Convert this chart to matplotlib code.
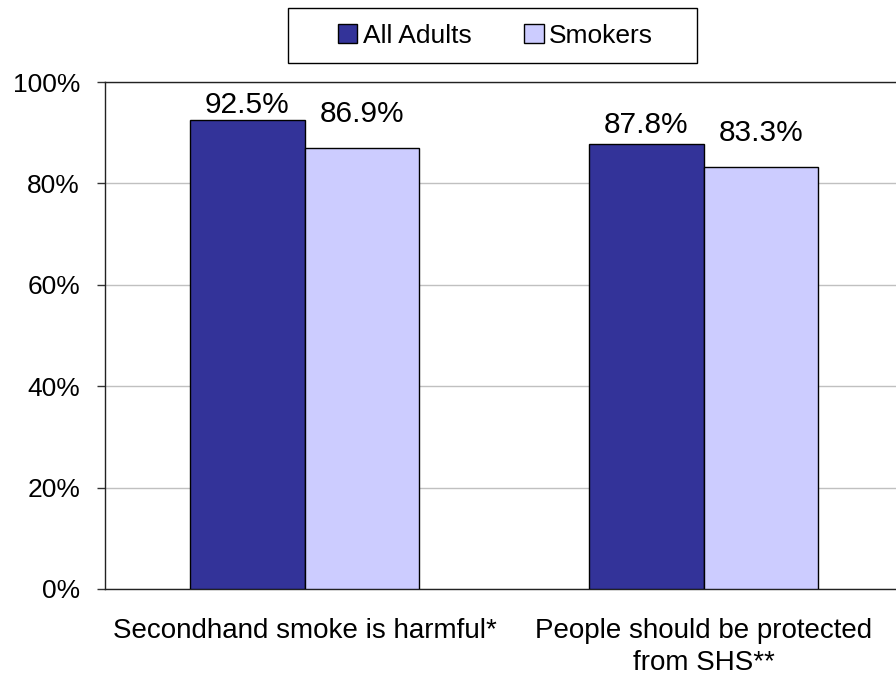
import matplotlib
matplotlib.use("Agg")
import matplotlib.pyplot as plt
from matplotlib.patches import Rectangle
import numpy as np

plt.rcParams['font.family'] = ['Liberation Sans', 'DejaVu Sans']

categories = ["Secondhand smoke is harmful*", "People should be protected\nfrom SHS**"]
series_names = ["All Adults", "Smokers"]
all_adults = [92.5, 87.8]
smokers = [86.9, 83.3]
y_ticks = [0, 20, 40, 60, 80, 100]
y_tick_labels = ["0%", "20%", "40%", "60%", "80%", "100%"]

colors = ["#333399", "#CCCCFF"]
label_offsets = [[7, 11], [26, 26]]  # pixels above bar top (styling)

W, H = 896, 675
fig = plt.figure(figsize=(W / 100, H / 100), dpi=100)
ax = fig.add_axes([105 / W, (H - 589) / H, (903 - 105) / W, (589 - 82) / H])

x = np.arange(len(categories))
bw = 0.287
fs = 19
series = [all_adults, smokers]
handles = []
for i, (vals, name) in enumerate(zip(series, series_names)):
    pos = x + (i - 0.5) * bw
    b = ax.bar(pos, vals, bw, color=colors[i], edgecolor="black", linewidth=1.0,
               label=name, zorder=3)
    handles.append(b)
    for j, (p, v) in enumerate(zip(pos, vals)):
        ax.annotate(f"{v:.1f}%", xy=(p, v), xytext=(0, label_offsets[i][j]),
                    textcoords="offset pixels", ha="center", va="baseline",
                    fontsize=21.5, color="black", zorder=4)

ax.set_xlim(-0.5, 1.5)
ax.set_ylim(0, 100)
ax.set_yticks(y_ticks)
ax.set_yticklabels(y_tick_labels, fontsize=fs)
ax.set_xticks(x)
ax.set_xticklabels(categories, fontsize=20, linespacing=1.3)
ax.tick_params(axis="x", length=0, pad=21)
ax.tick_params(axis="y", length=6, width=1, direction="out", pad=12, color="#333333")
ax.yaxis.grid(True, color="#C0C0C0", linewidth=1, zorder=0)
ax.set_axisbelow(True)
for s in ["left", "bottom", "top"]:
    ax.spines[s].set_color("#222222")
    ax.spines[s].set_linewidth(1)
ax.spines["right"].set_visible(False)

# legend box frame
fig.patches.append(Rectangle((288 / W, 1 - 63 / H), (697 - 288) / W, (63 - 8) / H,
                             transform=fig.transFigure, facecolor="white",
                             edgecolor="black", linewidth=1.0, zorder=1))
leg = fig.legend(handles=handles, labels=series_names, loc="center",
                 bbox_to_anchor=(495.5 / W, 1 - 36 / H), ncol=2, fontsize=fs,
                 frameon=False,
                 handlelength=0.75, handleheight=0.75, handletextpad=0.2,
                 columnspacing=2.0, borderpad=0.0, borderaxespad=0)
leg.set_zorder(2)
for p in leg.legend_handles:
    p.set_edgecolor("black")
    p.set_linewidth(1.0)

fig.savefig("out.png", dpi=100)
